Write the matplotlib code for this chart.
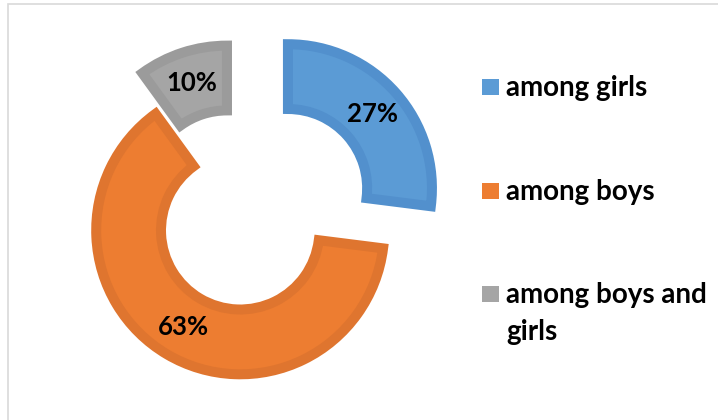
import matplotlib.pyplot as plt
from matplotlib.patches import Rectangle

plt.rcParams['font.family'] = ['Lato', 'DejaVu Sans']

labels = ['among girls', 'among boys', 'among boys and\ngirls']
values = [27, 63, 10]
colors = ['#5B9BD5', '#ED7D31', '#A5A5A5']
edge_colors = ['#5290CD', '#DF752F', '#9B9B9B']
explode = [0.442, 0.0, 0.297]

W, H = 718, 420
fig = plt.figure(figsize=(W / 100, H / 100), dpi=100)

# chart frame (light grey border)
fig.add_artist(Rectangle((7.5 / W, -20 / H), 740 / W, 435.5 / H, transform=fig.transFigure,
                         fill=False, edgecolor='#D9D9D9', linewidth=1.2))

ax = fig.add_axes([24.2 / W, -26.3 / H, 432 / W, 432 / H])
wedges, _, autotexts = ax.pie(values, colors=colors, explode=explode, startangle=90,
                              counterclock=False, radius=1.0, pctdistance=0.78,
                              autopct=lambda p: f'{round(p)}%',
                              wedgeprops=dict(width=0.45, linewidth=7.2))
for w, ec in zip(wedges, edge_colors):
    w.set_edgecolor(ec)
    w.set_joinstyle('miter')
for t in autotexts:
    t.set_fontsize(18.5)
    t.set_fontweight('bold')
    t.set_color('black')

ax.set_xlim(-1.5, 1.5)
ax.set_ylim(-1.5, 1.5)
ax.set_aspect('equal')
ax.axis('off')

# legend on the right: square key + bold label, wrapped lines 37 px apart
row_base = [96, 200, 303]
for lab, col, yb in zip(labels, colors, row_base):
    fig.add_artist(Rectangle((482 / W, (H - yb + 1) / H), 17 / W, 16 / H,
                             transform=fig.transFigure, facecolor=col, edgecolor='none'))
    for i, line in enumerate(lab.split('\n')):
        fig.text(506 / W, (H - yb - 37 * i) / H, line, fontsize=20, fontweight='bold',
                 va='baseline', ha='left')

fig.savefig('out.png', dpi=100)
